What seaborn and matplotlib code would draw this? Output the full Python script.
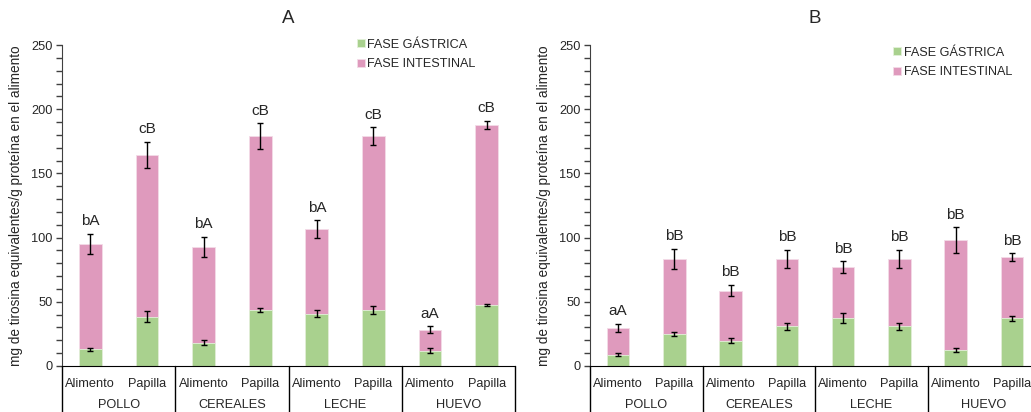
import numpy as np
import pandas as pd
import matplotlib
matplotlib.use("Agg")
import matplotlib.pyplot as plt
import matplotlib.transforms as mtransforms
from matplotlib.ticker import MultipleLocator
import seaborn as sns

# --- DATOS ---
GRUPOS = ["POLLO", "CEREALES", "LECHE", "HUEVO"]
MUESTRAS = ["Alimento", "Papilla"]

# Panel A
gastrica_A = [13.0, 38.5, 18.2, 43.8, 40.8, 43.8, 11.8, 47.5]
gastrica_A_err = [1.0, 4.0, 2.0, 1.5, 3.0, 3.3, 2.0, 1.0]
total_A = [95.0, 164.5, 92.8, 179.0, 106.5, 179.0, 28.3, 187.8]
total_A_err = [8.0, 10.0, 8.0, 10.0, 7.0, 7.0, 2.5, 3.0]
letras_A = ["bA", "cB", "bA", "cB", "bA", "cB", "aA", "cB"]

# Panel B
gastrica_B = [8.8, 24.8, 19.8, 30.8, 37.2, 30.8, 12.5, 37.2]
gastrica_B_err = [1.0, 1.5, 2.0, 3.0, 4.0, 3.0, 1.5, 2.0]
total_B = [29.8, 83.5, 58.8, 83.5, 77.0, 83.5, 98.0, 84.8]
total_B_err = [3.0, 8.0, 4.5, 7.0, 4.5, 7.0, 10.0, 3.0]
letras_B = ["aA", "bB", "bB", "bB", "bB", "bB", "bB", "bB"]

VERDE = "#a9d18e"
ROSA = "#df9abd"
FUENTE = ["Liberation Sans", "DejaVu Sans"]
YLABEL = "mg de tirosina equivalentes/g proteína en el alimento"
TAM = 9.2

sns.set_style("white")
plt.rcParams["font.family"] = FUENTE


def tabla(gastrica, g_err, total, t_err, letras):
    filas = []
    for i, (g, m) in enumerate([(g, m) for g in GRUPOS for m in MUESTRAS]):
        filas.append({"clave": f"{g}-{m}", "grupo": g, "muestra": m,
                      "gastrica": gastrica[i], "g_err": g_err[i],
                      "total": total[i], "t_err": t_err[i], "letra": letras[i]})
    return pd.DataFrame(filas)


def panel(ax, df, titulo, leg_anchor):
    sns.barplot(data=df, x="clave", y="total", color=ROSA, width=0.4,
                edgecolor="#f3dbe7", linewidth=0.6, saturation=1, ax=ax,
                label="FASE INTESTINAL", errorbar=None)
    sns.barplot(data=df, x="clave", y="gastrica", color=VERDE, width=0.4,
                edgecolor="#e3f1da", linewidth=0.6, saturation=1, ax=ax,
                label="FASE GÁSTRICA", errorbar=None)
    pos = np.arange(len(df))
    ax.errorbar(pos, df["total"], yerr=df["t_err"], fmt="none", ecolor="black",
                elinewidth=1, capsize=2.2, capthick=1)
    ax.errorbar(pos, df["gastrica"], yerr=df["g_err"], fmt="none", ecolor="black",
                elinewidth=1, capsize=2.2, capthick=1)
    for x, y, e, t in zip(pos, df["total"], df["t_err"], df["letra"]):
        ax.annotate(t, (x, y + e), xytext=(0, 4), textcoords="offset points",
                    ha="center", va="bottom", fontsize=11)

    ax.set_ylim(0, 250)
    ax.set_xlim(-0.5, len(df) - 0.5)
    ax.yaxis.set_major_locator(MultipleLocator(50))
    ax.yaxis.set_minor_locator(MultipleLocator(10))
    ax.tick_params(axis="y", which="both", direction="out", left=True,
                   length=4, width=1, color="#404040", labelsize=TAM, pad=3)
    ax.tick_params(axis="x", which="both", bottom=False, labelsize=TAM, pad=5)
    ax.set_xticks(pos)
    ax.set_xticklabels(df["muestra"])
    ax.set_xlabel("")
    ax.set_ylabel(YLABEL, fontsize=9.8, labelpad=6)
    ax.set_title(titulo, fontsize=13.5, pad=16)
    for s in ["top", "right"]:
        ax.spines[s].set_visible(False)
    ax.spines["left"].set_color("#404040")
    ax.spines["bottom"].set_color("black")

    # separadores de grupo y nombres de grupo bajo el eje
    tr = mtransforms.blended_transform_factory(ax.transData, ax.transAxes)
    bordes = np.arange(0, len(df) + 1, len(MUESTRAS)) - 0.5
    for b in bordes:
        ax.plot([b, b], [0, -0.2], transform=tr, color="black", lw=1,
                clip_on=False)
    for i, g in enumerate(GRUPOS):
        ax.text(i * len(MUESTRAS) + 0.5, -0.12, g, transform=tr,
                ha="center", va="center", fontsize=TAM)

    h, l = ax.get_legend_handles_labels()
    orden = [l.index("FASE GÁSTRICA"), l.index("FASE INTESTINAL")]
    ax.legend([h[i] for i in orden], [l[i] for i in orden], loc="upper left",
              bbox_to_anchor=leg_anchor, frameon=False, fontsize=9.1,
              handlelength=0.6, handleheight=0.6, handletextpad=0.2,
              labelspacing=0.6, borderaxespad=0)


fig = plt.figure(figsize=(10.31, 4.12), dpi=100)
ax_a = fig.add_axes([62 / 1031, 46 / 412, 453 / 1031, 321 / 412])
ax_b = fig.add_axes([590 / 1031, 46 / 412, 450 / 1031, 321 / 412])

panel(ax_a, tabla(gastrica_A, gastrica_A_err, total_A, total_A_err, letras_A),
      "A", (0.64, 1.035))
panel(ax_b, tabla(gastrica_B, gastrica_B_err, total_B, total_B_err, letras_B),
      "B", (0.663, 1.01))

fig.savefig("out.png", dpi=100)
